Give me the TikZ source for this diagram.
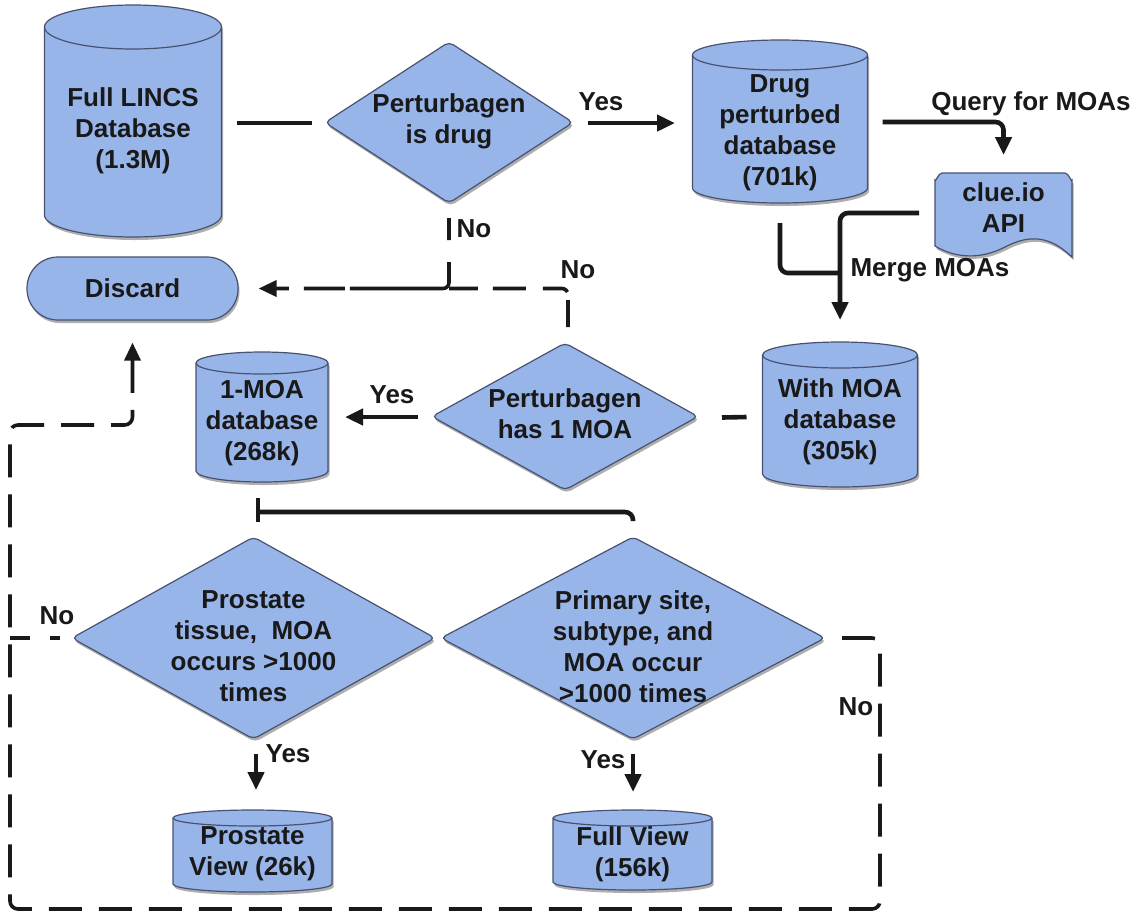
\documentclass[tikz,border=0pt]{standalone}
\usepackage{fontspec}
\setmainfont{Liberation Sans}
\usetikzlibrary{arrows.meta,shadows}
\definecolor{dbfill}{RGB}{152,181,234}
\definecolor{dbedge}{RGB}{72,82,112}
\definecolor{ink}{RGB}{25,25,25}
\tikzset{
 shp/.style={fill=dbfill, draw=dbedge, line width=1.2pt,
   drop shadow={opacity=0.45, shadow xshift=1.5pt, shadow yshift=-3pt, fill=black!70}},
 edgeln/.style={draw=dbedge, line width=1.2pt},
 box/.style={inner sep=0pt, outer sep=0pt, draw=none},
 txt/.style={inner sep=0pt, align=center, font=\bfseries\fontsize{26}{31}\selectfont, text=ink},
 lbl/.style={inner sep=0pt, font=\bfseries\fontsize{26}{31}\selectfont, text=ink},
 conn/.style={line width=4.6pt, draw=ink},
 dthin/.style={line width=3.6pt, draw=ink},
 dconn/.style={dthin, dash pattern=on 33pt off 17pt},
 tip/.style={-{Triangle[length=18pt,width=16pt]}},
}
% cylinder: name, cx, top, bottom, half width, ry, text y, text
\newcommand{\dbcyl}[8]{%
 \path[shp] ({#2-#5},{#3+#6}) -- ({#2-#5},{#4-#6})
   arc[start angle=180,end angle=0,x radius=#5,y radius=#6]
   -- ({#2+#5},{#3+#6})
   arc[start angle=0,end angle=-180,x radius=#5,y radius=#6] -- cycle;
 \draw[edgeln] ({#2-#5},{#3+#6}) arc[start angle=180,end angle=0,x radius=#5,y radius=#6];
 \node[box, minimum width={2*#5}, minimum height={#4-#3}] (#1) at (#2,{(#3+#4)/2}) {};
 \node[txt] (#1t) at (#2,#7) {#8};
}
% diamond: name, cx, cy, half width, half height, text y, text
\newcommand{\dia}[7]{%
 \path[shp, rounded corners=5pt] ({#2-#4},#3) -- (#2,{#3-#5}) -- ({#2+#4},#3) -- (#2,{#3+#5}) -- cycle;
 \node[box, minimum width={2*#4}, minimum height={2*#5}] (#1) at (#2,#3) {};
 \node[txt] (#1t) at (#2,#6) {#7};
}
\begin{document}
\begin{tikzpicture}[x=1pt,y=-1pt]
\path[use as bounding box, fill=white] (0,0) rectangle (1139,914);

% shapes
\dbcyl{lincs}{133}{5}{237}{88.5}{22}{131}{Full LINCS\\Database\\(1.3M)}
\dia{isdrug}{449}{122.5}{124}{80.5}{121}{Perturbagen\\is drug}
\dbcyl{drug}{780}{40}{203}{87.5}{15}{132.5}{Drug\\perturbed\\database\\(701k)}
\path[shp] (935,246) -- (935,180) to[out=-90,in=180] (942,173) -- (1065,173)
  to[out=0,in=-90] (1072,180) -- (1072,257)
  .. controls (1050,236) and (1030,234) .. (1005,247)
  .. controls (980,260) and (955,258) .. (935,246) -- cycle;
\node[box, minimum width=137pt, minimum height=84pt] (clue) at (1003.5,215) {};
\node[txt] (cluet) at (1003.5,208) {clue.io\\API};
\node[shp, rounded corners=31pt, minimum width=211pt, minimum height=63pt,
  inner sep=0pt, font=\bfseries\fontsize{26}{31}\selectfont, text=ink] (discard) at (132.5,288.5) {Discard};
\dbcyl{withmoa}{840}{342}{487}{77.5}{13}{421.5}{With MOA\\database\\(305k)}
\dia{has1}{565}{416.5}{133}{73.5}{414}{Perturbagen\\has 1 MOA}
\dbcyl{moa1}{262}{352}{482}{66}{11}{423}{1-MOA\\database\\(268k)}
\dia{prostate}{253.5}{638}{181.5}{101}{646}{Prostate\\tissue,~ MOA\\occurs >1000\\times}
\dia{primary}{633}{638}{192}{101}{646.5}{Primary site,\\subtype, and\\MOA occur\\>1000 times}
\dbcyl{pview}{252.5}{810}{892}{79.5}{8}{854}{Prostate\\View (26k)}
\dbcyl{fview}{632.5}{810}{890}{79.5}{8}{854}{Full View\\(156k)}

% solid connectors
\draw[conn] ([shift={(15,2)}]lincs.east) -- ([shift={(-13,0.5)}]isdrug.west);
\draw[conn, tip] ([shift={(15,0.5)}]isdrug.east) -- ([shift={(-17.5,1.5)}]drug.west);
\node[lbl] (yes1) at (601,102) {Yes};
\draw[conn, tip, rounded corners=8pt] ([shift={(15,0.5)}]drug.east) -| ([shift={(0,-18)}]clue.north);
\node[lbl] (qlbl) at (1031,104) {Query for MOAs};
\draw[conn, rounded corners=8pt] ([shift={(0,20)}]drug.south) |- ([shift={(0,-69)}]withmoa.north);
\draw[conn, tip, rounded corners=8pt] ([shift={(-16,-2)}]clue.west) -| ([shift={(0,-22)}]withmoa.north);
\node[lbl] (mlbl) at (930,270) {Merge MOAs};
\draw[conn] ([shift={(24,1)}]has1.east) -- ([shift={(-16,2.5)}]withmoa.west);
\draw[conn, tip] ([shift={(-14,0.5)}]has1.west) -- ([shift={(17,0)}]moa1.east);
\node[lbl] (yes2) at (392,395) {Yes};
\draw[conn] ([shift={(-4,16)}]moa1.south) -- ([shift={(4.5,-15)}]prostate.north);
\draw[conn, rounded corners=8pt] ([shift={(0,-16)}]primary.north) |- ([shift={(-4,30)}]moa1.south);
\draw[conn, tip] ([shift={(2.5,15)}]prostate.south) -- ([shift={(3.5,-20)}]pview.north);
\node[lbl] (yes3) at (288,754) {Yes};
\draw[conn, tip] ([shift={(0,15)}]primary.south) -- ([shift={(0.5,-18)}]fview.north);
\node[lbl] (yes4) at (603,760) {Yes};

% dashed connectors to Discard
\draw[dthin, tip, rounded corners=6pt,
  dash pattern=on 22pt off 22pt on 123pt off 5pt on 41pt off 15pt on 40pt]
  ([shift={(0,15)}]isdrug.south) |- ([shift={(20,0)}]discard.east);
\node[lbl] (no1) at (474,229) {No};
\draw[dthin, rounded corners=6pt,
  dash pattern=on 27pt off 8pt on 26pt off 17pt on 33pt off 15pt on 32pt off 50pt]
  ([shift={(3,-16)}]has1.north) |- (isdrug.south |- discard.east);
\node[lbl] (no2) at (578,270) {No};
\draw[dconn, tip, rounded corners=8pt] ([shift={(17,0)}]primary.east) -- ++(38,0) -- ++(0,271)
  -- (10,909) -- (10,425) -| ([shift={(0,22)}]discard.south);
\node[lbl] (no3) at (856,707) {No};
\draw[dthin, dash pattern=on 10pt off 20pt on 20pt off 50pt]
  ([shift={(-12,0)}]prostate.west) -- (10,638);
\node[lbl] (no4) at (57,616) {No};
\end{tikzpicture}
\end{document}
